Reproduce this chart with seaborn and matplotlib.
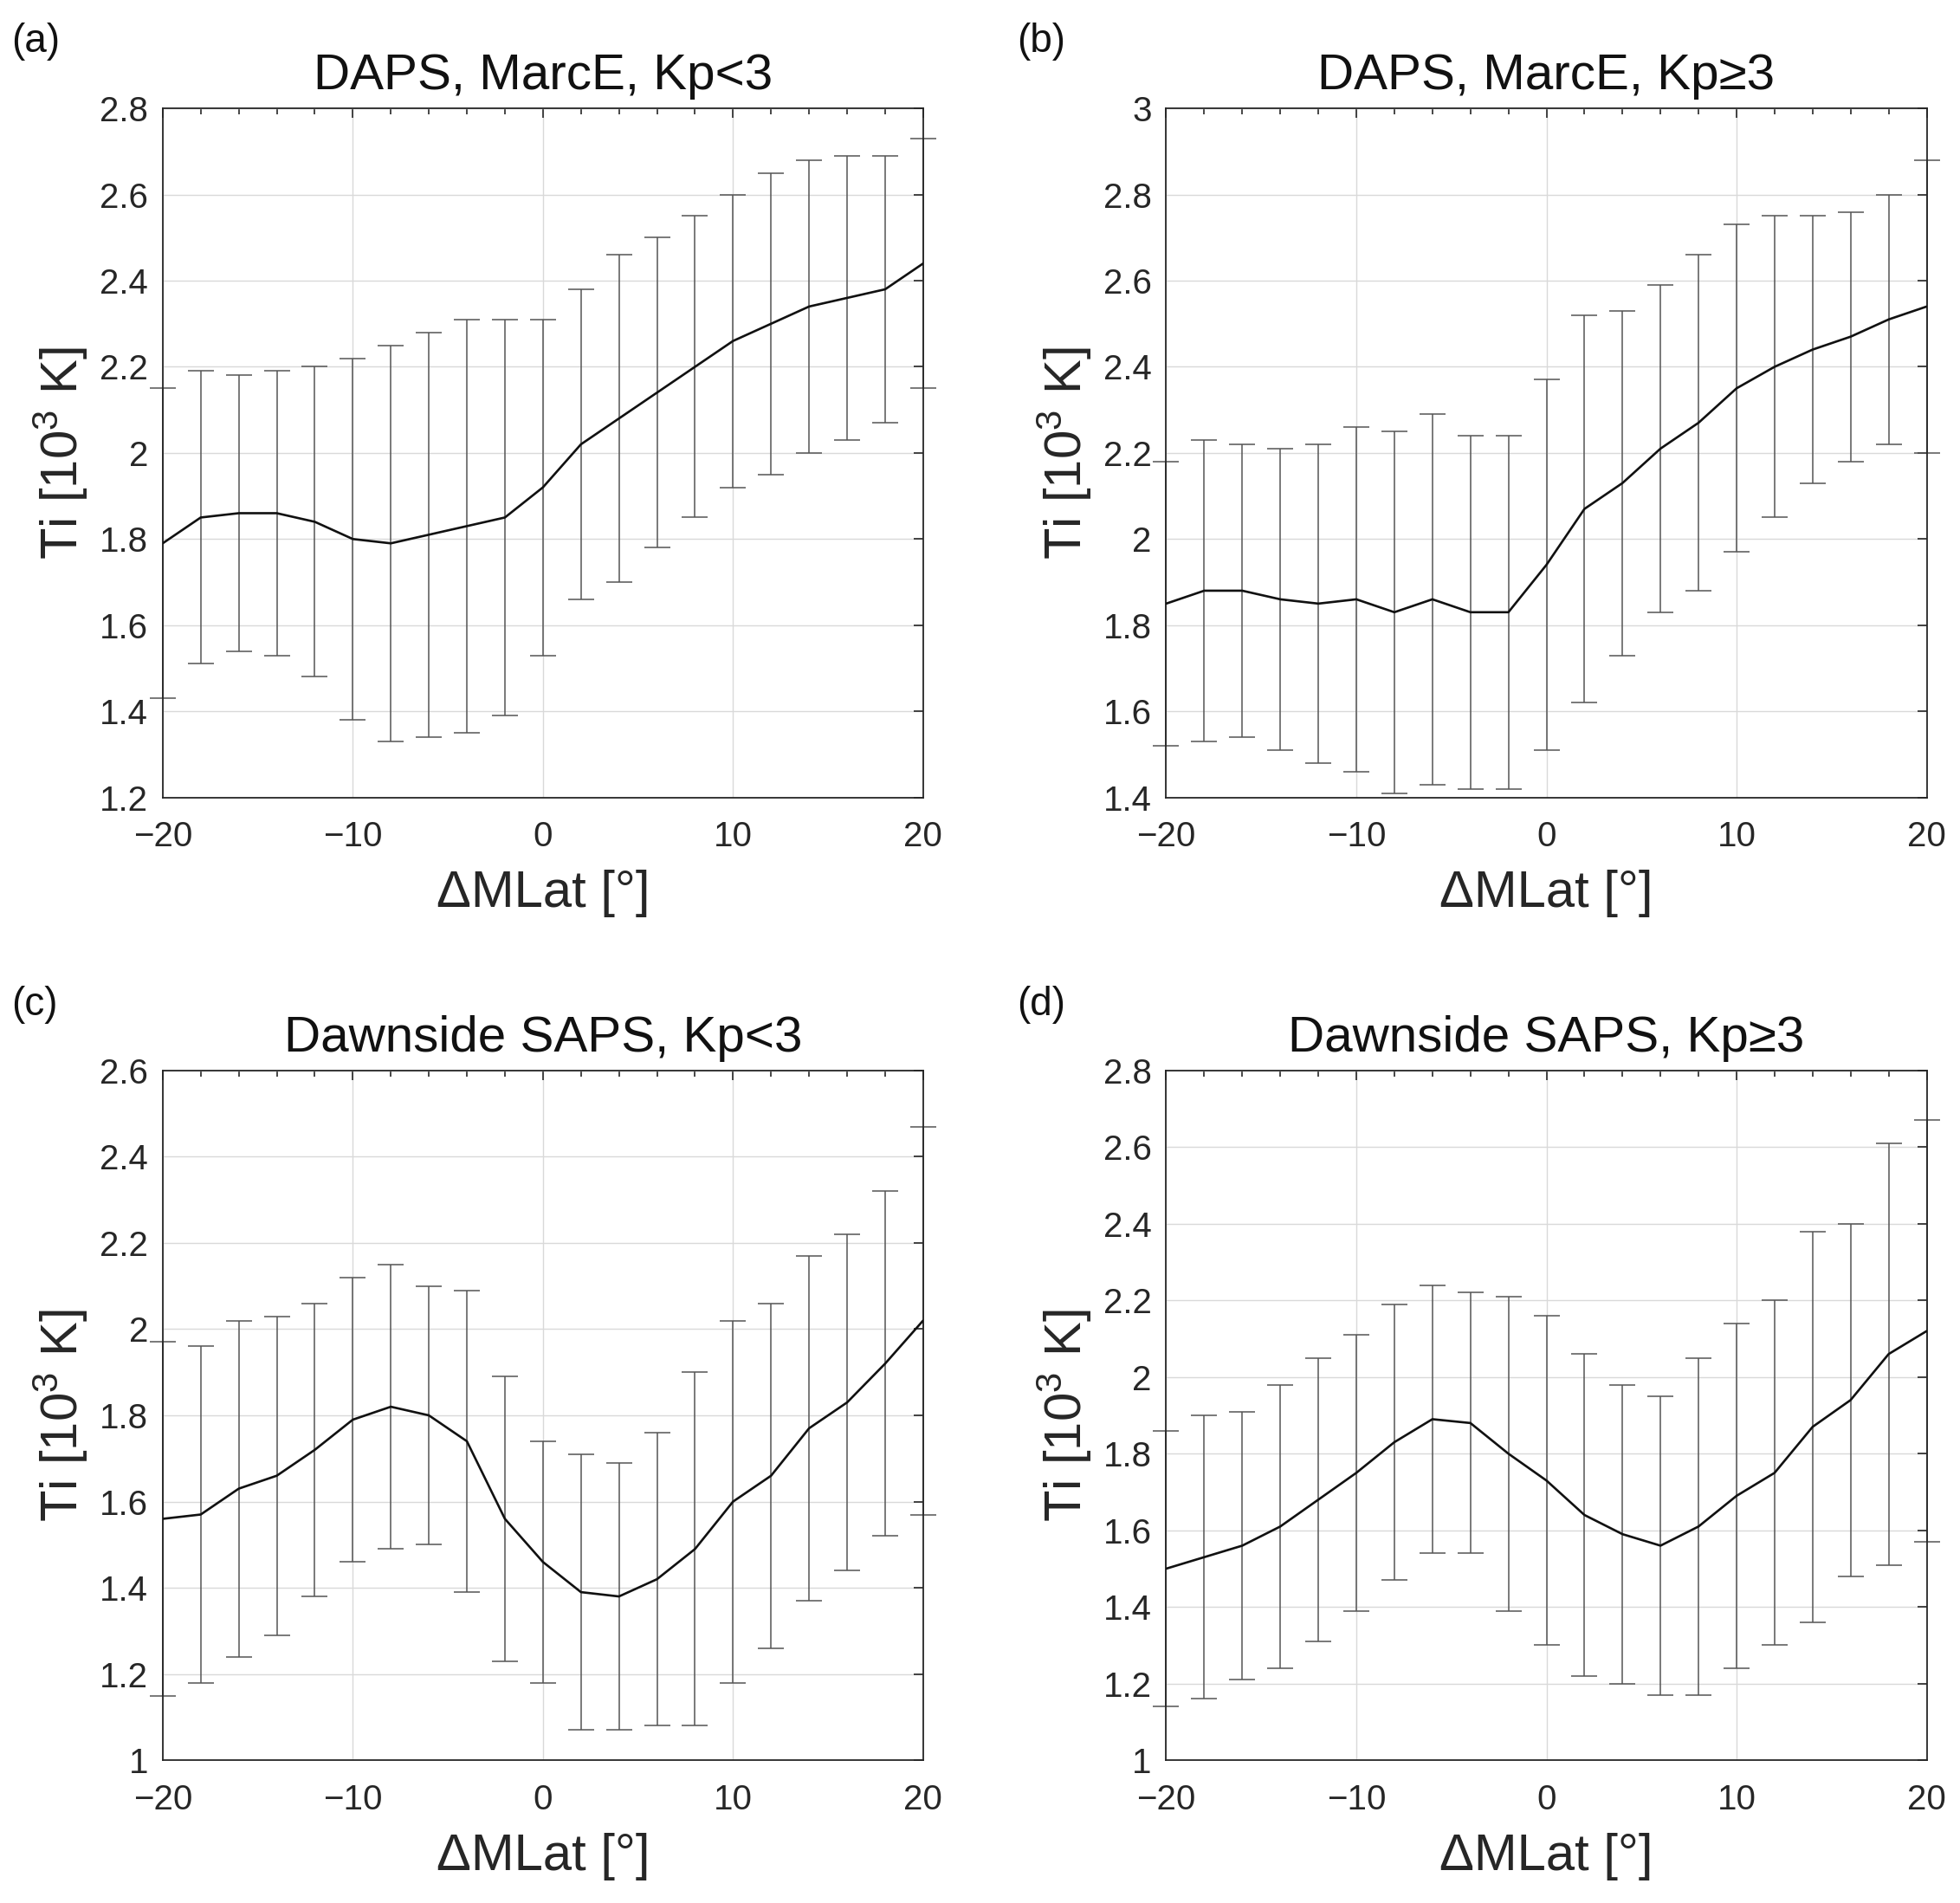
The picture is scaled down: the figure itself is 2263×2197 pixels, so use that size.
import numpy as np
import pandas as pd
import matplotlib
matplotlib.use('Agg')
import matplotlib.pyplot as plt
from matplotlib.ticker import MultipleLocator, FuncFormatter
import seaborn as sns

# %%
dmlat = list(range(-20, 21, 2))

a_mean = [1.79, 1.85, 1.86, 1.86, 1.84, 1.80, 1.79, 1.81, 1.83, 1.85, 1.92,
          2.02, 2.08, 2.14, 2.20, 2.26, 2.30, 2.34, 2.36, 2.38, 2.44]
a_upper = [2.15, 2.19, 2.18, 2.19, 2.20, 2.22, 2.25, 2.28, 2.31, 2.31, 2.31,
           2.38, 2.46, 2.50, 2.55, 2.60, 2.65, 2.68, 2.69, 2.69, 2.73]
a_lower = [1.43, 1.51, 1.54, 1.53, 1.48, 1.38, 1.33, 1.34, 1.35, 1.39, 1.53,
           1.66, 1.70, 1.78, 1.85, 1.92, 1.95, 2.00, 2.03, 2.07, 2.15]

b_mean = [1.85, 1.88, 1.88, 1.86, 1.85, 1.86, 1.83, 1.86, 1.83, 1.83, 1.94,
          2.07, 2.13, 2.21, 2.27, 2.35, 2.40, 2.44, 2.47, 2.51, 2.54]
b_upper = [2.18, 2.23, 2.22, 2.21, 2.22, 2.26, 2.25, 2.29, 2.24, 2.24, 2.37,
           2.52, 2.53, 2.59, 2.66, 2.73, 2.75, 2.75, 2.76, 2.80, 2.88]
b_lower = [1.52, 1.53, 1.54, 1.51, 1.48, 1.46, 1.41, 1.43, 1.42, 1.42, 1.51,
           1.62, 1.73, 1.83, 1.88, 1.97, 2.05, 2.13, 2.18, 2.22, 2.20]

c_mean = [1.56, 1.57, 1.63, 1.66, 1.72, 1.79, 1.82, 1.80, 1.74, 1.56, 1.46,
          1.39, 1.38, 1.42, 1.49, 1.60, 1.66, 1.77, 1.83, 1.92, 2.02]
c_upper = [1.97, 1.96, 2.02, 2.03, 2.06, 2.12, 2.15, 2.10, 2.09, 1.89, 1.74,
           1.71, 1.69, 1.76, 1.90, 2.02, 2.06, 2.17, 2.22, 2.32, 2.47]
c_lower = [1.15, 1.18, 1.24, 1.29, 1.38, 1.46, 1.49, 1.50, 1.39, 1.23, 1.18,
           1.07, 1.07, 1.08, 1.08, 1.18, 1.26, 1.37, 1.44, 1.52, 1.57]

d_mean = [1.50, 1.53, 1.56, 1.61, 1.68, 1.75, 1.83, 1.89, 1.88, 1.80, 1.73,
          1.64, 1.59, 1.56, 1.61, 1.69, 1.75, 1.87, 1.94, 2.06, 2.12]
d_upper = [1.86, 1.90, 1.91, 1.98, 2.05, 2.11, 2.19, 2.24, 2.22, 2.21, 2.16,
           2.06, 1.98, 1.95, 2.05, 2.14, 2.20, 2.38, 2.40, 2.61, 2.67]
d_lower = [1.14, 1.16, 1.21, 1.24, 1.31, 1.39, 1.47, 1.54, 1.54, 1.39, 1.30,
           1.22, 1.20, 1.17, 1.17, 1.24, 1.30, 1.36, 1.48, 1.51, 1.57]

titles = ['DAPS, MarcE, Kp<3', 'DAPS, MarcE, Kp\u22653',
          'Dawnside SAPS, Kp<3', 'Dawnside SAPS, Kp\u22653']
letters = ['(a)', '(b)', '(c)', '(d)']
ylims = [(1.2, 2.8), (1.4, 3.0), (1.0, 2.6), (1.0, 2.8)]

# %%
sns.set_style('white')
plt.rcParams['font.family'] = ['Liberation Sans', 'DejaVu Sans']
plt.rcParams['mathtext.fontset'] = 'custom'
plt.rcParams['mathtext.rm'] = 'Liberation Sans'
plt.rcParams['mathtext.it'] = 'Liberation Sans:italic'

panels = [(a_mean, a_upper, a_lower), (b_mean, b_upper, b_lower),
          (c_mean, c_upper, c_lower), (d_mean, d_upper, d_lower)]

fig = plt.figure(figsize=(22.63, 21.97), dpi=100)
positions = [[0.083, 0.581, 0.388, 0.362], [0.595, 0.581, 0.388, 0.362],
             [0.083, 0.075, 0.388, 0.3625], [0.595, 0.075, 0.388, 0.3625]]
letter_pos = [(0.006, 0.978), (0.519, 0.978), (0.006, 0.472), (0.519, 0.472)]


def tick_fmt(v, pos):
    return ('%g' % round(v, 2)).replace('-', '\u2212')


for i, (mean, upper, lower) in enumerate(panels):
    ax = fig.add_axes(positions[i])
    df = pd.DataFrame({'DMLat': dmlat, 'Ti': mean, 'Up': upper, 'Low': lower})
    err = [df['Ti'] - df['Low'], df['Up'] - df['Ti']]
    ax.errorbar(df['DMLat'], df['Ti'], yerr=err, fmt='none', ecolor='#555555',
                elinewidth=1.1, capsize=11, capthick=1.1, clip_on=False, zorder=2)
    sns.lineplot(data=df, x='DMLat', y='Ti', ax=ax, color='#111111',
                 linewidth=1.9, zorder=3)
    ax.set_xlim(-20, 20)
    ax.set_ylim(*ylims[i])
    ax.xaxis.set_major_locator(MultipleLocator(10))
    ax.xaxis.set_minor_locator(MultipleLocator(2))
    ax.yaxis.set_major_locator(MultipleLocator(0.2))
    ax.xaxis.set_major_formatter(FuncFormatter(tick_fmt))
    ax.yaxis.set_major_formatter(FuncFormatter(tick_fmt))
    ax.grid(True, which='major', color='#d9d9d9', linewidth=1.0)
    ax.set_axisbelow(True)
    ax.tick_params(which='both', direction='in', top=True, right=True,
                   labelsize=29, colors='#262626', width=1.2)
    ax.tick_params(which='major', length=8)
    ax.tick_params(which='minor', length=5)
    ax.tick_params(axis='x', which='major', pad=19)
    ax.tick_params(axis='y', which='major', pad=12)
    for s in ax.spines.values():
        s.set_color('#262626')
        s.set_linewidth(1.3)
    ax.set_xlabel('\u0394MLat [\u00b0]', fontsize=43, color='#262626', labelpad=14)
    ax.set_ylabel('Ti [10$^3$ K]', fontsize=43, color='#262626', labelpad=8)
    ax.set_title(titles[i], fontsize=42, color='#111111', pad=16)
    fig.text(letter_pos[i][0], letter_pos[i][1], letters[i], fontsize=33,
             color='#111111', ha='left', va='center')

fig.savefig('out.png', dpi=100, facecolor='white')
